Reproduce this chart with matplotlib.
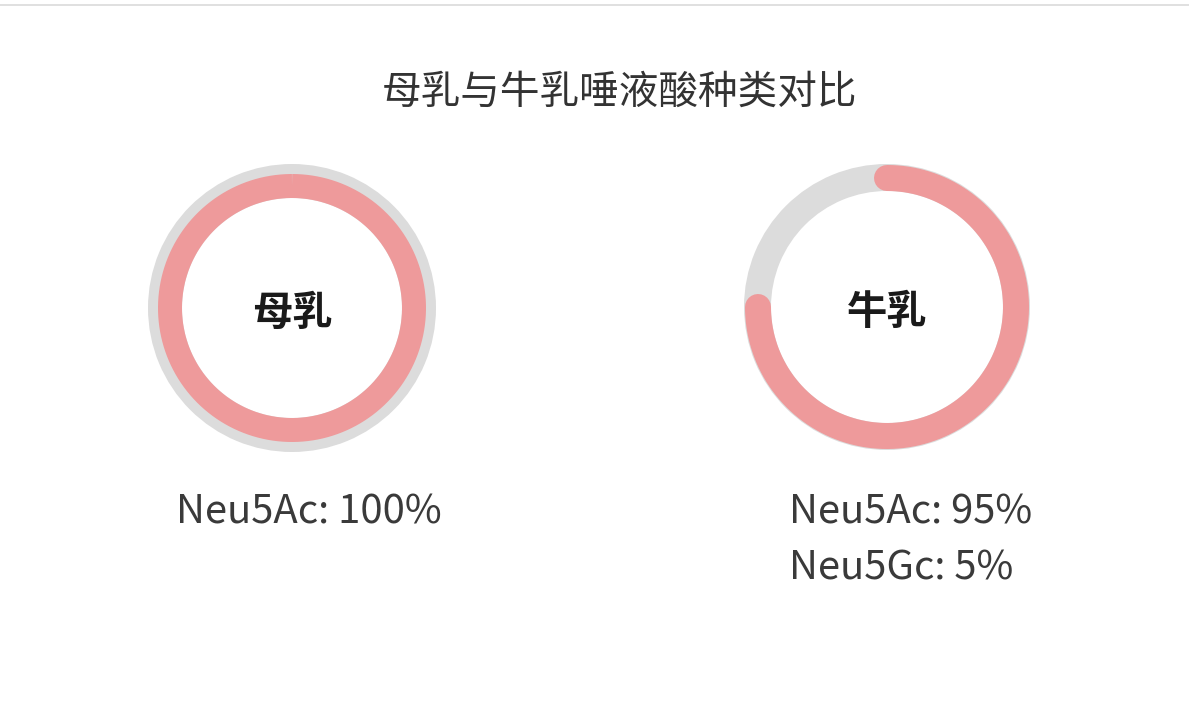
import numpy as np
import matplotlib.pyplot as plt
from matplotlib.patches import Wedge

plt.rcParams['font.family'] = ['Noto Sans CJK SC', 'DejaVu Sans']

# data
title = '母乳与牛乳唾液酸种类对比'
milk_names = ['母乳', '牛乳']
# pink share of each ring as drawn in the reference: the 牛乳 arc covers
# about 3/4 of the circle even though its label says Neu5Ac 95%
arc_share = [1.00, 0.75]
share_labels = [['Neu5Ac: 100%'], ['Neu5Ac: 95%', 'Neu5Gc: 5%']]

W, H, DPI = 1189, 720, 100
px = 72 / DPI  # points per pixel

fig = plt.figure(figsize=(W / DPI, H / DPI), dpi=DPI)
ax = fig.add_axes([0, 0, 1, 1])
ax.set_xlim(0, W)
ax.set_ylim(H, 0)
ax.axis('off')

# ring geometry (pixels)
centers = [(292, 308), (887, 307)]
gray_r = [(110, 144), (116, 143)]
pink_r = [(110, 134), (116, 142)]
label_x = [176, 789]

pink = '#ee9a9b'
gray = '#dcdcdc'

for i, name in enumerate(milk_names):
    cx, cy = centers[i]
    r_in, r_out = gray_r[i]
    ax.add_patch(Wedge((cx, cy), r_out, 0, 360, width=r_out - r_in,
                       facecolor=gray, edgecolor='none'))

    p_in, p_out = pink_r[i]
    rm = (p_in + p_out) / 2
    t = np.linspace(0, 1, 500)
    ang = np.radians(90 - 360 * arc_share[i] * t)
    cap = 'round' if arc_share[i] < 1 else 'butt'
    ax.plot(cx + rm * np.cos(ang), cy - rm * np.sin(ang), color=pink,
            lw=(p_out - p_in) * px, solid_capstyle=cap)

    ax.text(cx, cy + 5, name, fontsize=29, fontweight='bold', color='#1a1a1a',
            ha='center', va='center')

    for j, line in enumerate(share_labels[i]):
        ax.text(label_x[i], 512 + 56 * j, line, fontsize=28.8, color='#3a3a3a',
                ha='left', va='center')

ax.text(619, 93, title, fontsize=28.5, color='#333333', ha='center', va='center')
ax.axhline(4.5, color='#e0e0e0', lw=2 * px)

fig.savefig('out.png', dpi=DPI)
